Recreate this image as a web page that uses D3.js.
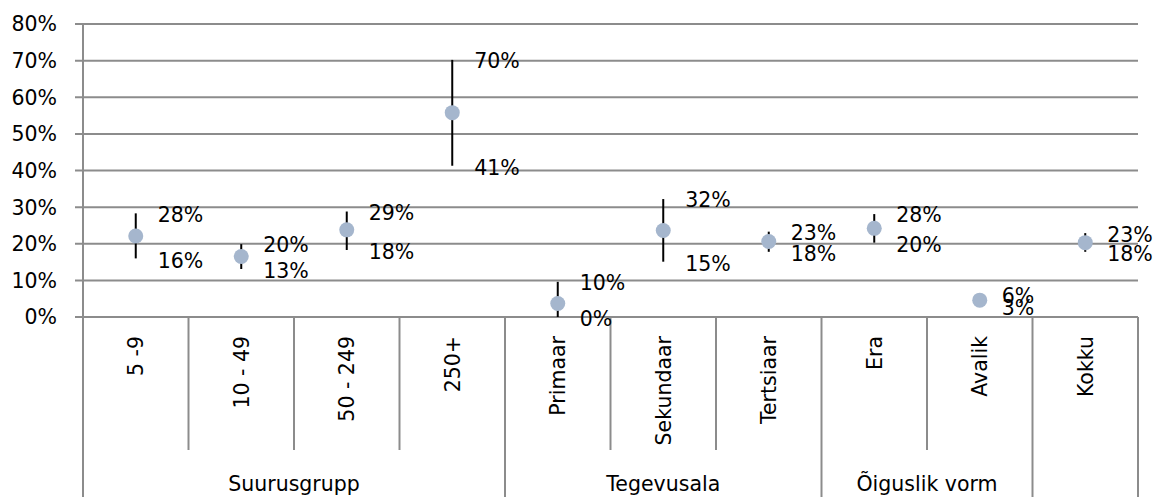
<!DOCTYPE html>
<html><head><meta charset="utf-8">
<script src="https://cdn.jsdelivr.net/npm/d3@7"></script>
<style>body{margin:0;background:#fff}svg{display:block}text{font-family:"DejaVu Sans",sans-serif;fill:#000}</style>
</head><body><svg id="c" width="1160" height="497"></svg>
<script>
const categories = ["5 -9","10 - 49","50 - 249","250+","Primaar","Sekundaar","Tertsiaar","Era","Avalik","Kokku"];
const groups = ["Suurusgrupp","Suurusgrupp","Suurusgrupp","Suurusgrupp","Tegevusala","Tegevusala","Tegevusala","Õiguslik vorm","Õiguslik vorm",""];
const meanValues = [0.221,0.165,0.238,0.558,0.037,0.236,0.206,0.242,0.046,0.203];
const highValues = [0.283,0.199,0.288,0.702,0.096,0.322,0.233,0.281,0.06,0.229];
const lowValues  = [0.16,0.131,0.183,0.413,0.0,0.151,0.178,0.203,0.03,0.178];
const yTicks = [0,0.1,0.2,0.3,0.4,0.5,0.6,0.7,0.8];

const svg = d3.select("#c");
const L = 83, R = 1138, T = 24, B = 317;
const x = d3.scaleBand().domain(categories).range([L,R]).padding(0);
const y = d3.scaleLinear().domain([0,0.8]).range([B,T]);
const pct = d3.format(".0%");
const grid = "#8c8c8c";
const fs = 20.5;

svg.append("g").selectAll("line").data(yTicks).join("line")
  .attr("x1",L-8).attr("x2",R).attr("y1",d=>y(d)).attr("y2",d=>y(d))
  .attr("stroke",grid).attr("stroke-width",2);
svg.append("g").selectAll("text").data(yTicks).join("text")
  .attr("x",57).attr("y",d=>y(d)).attr("dy","0.36em").attr("text-anchor","end")
  .style("font-size",fs+"px").text(d=>pct(d));
svg.append("line").attr("x1",L).attr("x2",L).attr("y1",T).attr("y2",497)
  .attr("stroke",grid).attr("stroke-width",2);

const bounds = categories.map((c,i)=>({i, x:x(c)+x.bandwidth()}));
bounds.forEach(b=>{
  const full = b.i===categories.length-1 || groups[b.i]!==groups[b.i+1];
  svg.append("line").attr("x1",b.x).attr("x2",b.x).attr("y1",B).attr("y2",full?497:450)
    .attr("stroke",grid).attr("stroke-width",2);
});

svg.append("g").selectAll("text").data(categories).join("text")
  .attr("transform",d=>`translate(${x(d)+x.bandwidth()/2},336) rotate(-90)`)
  .attr("text-anchor","end").attr("dy","0.36em")
  .style("font-size",fs+"px").text(d=>d);

const gnames = [...new Set(groups)].filter(g=>g);
gnames.forEach(g=>{
  const idx = groups.map((v,i)=>v===g?i:-1).filter(i=>i>=0);
  const x0 = x(categories[idx[0]]), x1 = x(categories[idx[idx.length-1]])+x.bandwidth();
  svg.append("text").attr("x",(x0+x1)/2).attr("y",484).attr("dy","0.36em")
    .attr("text-anchor","middle").style("font-size",fs+"px").text(g);
});

svg.append("g").selectAll("line").data(categories).join("line")
  .attr("x1",d=>x(d)+x.bandwidth()/2).attr("x2",d=>x(d)+x.bandwidth()/2)
  .attr("y1",(d,i)=>y(highValues[i])).attr("y2",(d,i)=>y(lowValues[i]))
  .attr("stroke","#000").attr("stroke-width",2);
svg.append("g").selectAll("circle").data(categories).join("circle")
  .attr("cx",d=>x(d)+x.bandwidth()/2).attr("cy",(d,i)=>y(meanValues[i]))
  .attr("r",7.5).attr("fill","#a5b6cd");
const lab = svg.append("g");
categories.forEach((d,i)=>{
  const cx = x(d)+x.bandwidth()/2 + 22;
  lab.append("text").attr("x",cx).attr("y",y(highValues[i])+1).attr("dy","0.36em")
    .style("font-size",fs+"px").text(pct(highValues[i]));
  lab.append("text").attr("x",cx).attr("y",y(lowValues[i])+2).attr("dy","0.36em")
    .style("font-size",fs+"px").text(pct(lowValues[i]));
});
</script></body></html>
